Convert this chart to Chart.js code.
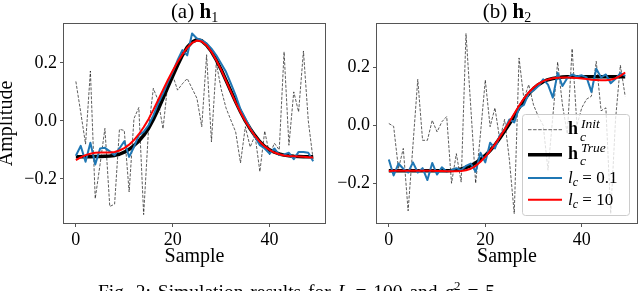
<!DOCTYPE html>
<html><head><meta charset="utf-8">
<script src="https://cdn.jsdelivr.net/npm/chart.js@4.4.1/dist/chart.umd.min.js"></script>
<style>
html,body{margin:0;padding:0;background:#fff;}
#wrap{position:relative;width:640px;height:291px;overflow:hidden;background:#fff;}
canvas{position:absolute;top:0;}
#cA{left:0;} #cB{left:330px;}
svg{position:absolute;left:0;top:0;}
</style></head>
<body>
<div id="wrap">
<canvas id="cA" width="330" height="291"></canvas>
<canvas id="cB" width="310" height="291"></canvas>
<svg width="640" height="291" font-family="Liberation Serif, serif">
  <text x="194.5" y="18" text-anchor="middle" font-size="21">(a) <tspan font-weight="bold">h</tspan><tspan font-size="14" dy="4">1</tspan></text>
  <text x="507" y="18" text-anchor="middle" font-size="21">(b) <tspan font-weight="bold">h</tspan><tspan font-size="14" dy="4">2</tspan></text>
  <rect x="522.5" y="114.5" width="107" height="101" rx="3" ry="3" fill="#ffffff" fill-opacity="0.8" stroke="#cccccc" stroke-width="1"/>
  <line x1="528" y1="129.7" x2="562" y2="129.7" stroke="rgba(0,0,0,0.7)" stroke-width="0.9" stroke-dasharray="3.5,1.6"/>
  <line x1="528" y1="154.7" x2="562" y2="154.7" stroke="#000" stroke-width="3.5"/>
  <line x1="528" y1="178" x2="562" y2="178" stroke="#1f77b4" stroke-width="2"/>
  <line x1="528" y1="199.7" x2="562" y2="199.7" stroke="#ff0000" stroke-width="2"/>
  <text x="568" y="134" font-size="18" font-weight="bold">h</text>
  <text x="581" y="127.5" font-size="13.5" font-style="italic">Init</text>
  <text x="580" y="140.5" font-size="13.5" font-style="italic">c</text>
  <text x="568" y="159" font-size="18" font-weight="bold">h</text>
  <text x="581" y="152" font-size="13.5" font-style="italic">True</text>
  <text x="580" y="165" font-size="13.5" font-style="italic">c</text>
  <text x="568" y="183" font-size="17"><tspan font-style="italic">l</tspan><tspan font-size="12" font-style="italic" dy="3">c</tspan><tspan dy="-3"> = 0.1</tspan></text>
  <text x="568" y="205" font-size="17"><tspan font-style="italic">l</tspan><tspan font-size="12" font-style="italic" dy="3">c</tspan><tspan dy="-3"> = 10</tspan></text>
  <text x="98" y="298" font-size="19.5" word-spacing="2">Fig. 2: Simulation results for <tspan font-style="italic">L</tspan> = 100 and <tspan font-style="italic">σ</tspan><tspan font-size="13" dy="-8">2</tspan><tspan dy="8"> = 5</tspan></text>
</svg>
</div>
<script>
const samples = [0,1,2,3,4,5,6,7,8,9,10,11,12,13,14,15,16,17,18,19,20,21,22,23,24,25,26,27,28,29,30,31,32,33,34,35,36,37,38,39,40,41,42,43,44,45,46,47,48,49];
const xTicks = [0, 20, 40];
const yTicks = [-0.2, 0.0, 0.2];

const h1Init = [0.136,0.03,-0.08,0.172,-0.268,-0.15,-0.026,-0.295,-0.287,-0.029,
 -0.033,-0.245,0.008,0.046,-0.323,-0.03,0.112,0.07,-0.027,0.13,
 0.157,0.106,0.128,0.146,0.112,0.078,-0.02,0.228,-0.072,0.2,
 0.11,0.045,0.003,-0.038,-0.145,-0.02,-0.09,-0.05,-0.175,-0.035,
 -0.117,-0.077,-0.10,0.238,-0.084,0.10,0.031,0.241,0.0,-0.134];
const h1True = [-0.124,-0.124,-0.124,-0.124,-0.123,-0.123,-0.122,-0.121,-0.119,-0.115,
 -0.108,-0.098,-0.085,-0.07,-0.05,-0.026,0.005,0.04,0.078,0.117,
 0.155,0.192,0.226,0.254,0.272,0.28,0.276,0.261,0.239,0.210,
 0.177,0.140,0.103,0.066,0.032,0.0,-0.027,-0.051,-0.072,-0.088,
 -0.10,-0.108,-0.114,-0.118,-0.12,-0.122,-0.123,-0.124,-0.124,-0.124];
const h1Lc01 = [-0.12,-0.086,-0.141,-0.075,-0.150,-0.095,-0.093,-0.105,-0.118,-0.095,
 -0.070,-0.124,-0.090,-0.049,-0.038,-0.015,0.019,0.060,0.094,0.134,
 0.169,0.209,0.244,0.226,0.301,0.284,0.278,0.267,0.249,0.226,
 0.198,0.169,0.129,0.088,0.040,0.008,-0.024,-0.055,-0.084,-0.095,
 -0.113,-0.095,-0.118,-0.116,-0.110,-0.132,-0.107,-0.107,-0.110,-0.139];
const h1Lc10 = [-0.135,-0.126,-0.118,-0.113,-0.110,-0.109,-0.109,-0.109,-0.107,-0.102,
 -0.094,-0.082,-0.066,-0.046,-0.022,0.006,0.038,0.072,0.107,0.141,
 0.173,0.203,0.229,0.252,0.269,0.277,0.274,0.260,0.238,0.209,
 0.176,0.139,0.101,0.064,0.030,-0.001,-0.028,-0.052,-0.072,-0.088,
 -0.10,-0.109,-0.115,-0.119,-0.121,-0.122,-0.123,-0.124,-0.125,-0.126];

const h2Init = [0.006,-0.004,-0.15,-0.08,-0.295,-0.07,0.158,-0.052,-0.052,0.017,
 -0.023,0.012,0.03,-0.2,-0.098,-0.196,0.316,0.06,-0.2,-0.03,
 0.156,-0.005,0.06,-0.05,0.02,-0.12,-0.305,0.232,0.09,0.14,
 0.07,0.03,0.0,-0.155,0.03,0.218,0.07,-0.03,0.264,0.0,
 0.06,0.09,0.10,0.22,0.05,0.06,-0.305,0.02,0.207,0.1];
const h2True = [-0.157,-0.157,-0.157,-0.157,-0.157,-0.157,-0.157,-0.157,-0.157,-0.157,
 -0.157,-0.157,-0.157,-0.156,-0.154,-0.151,-0.146,-0.139,-0.130,-0.118,
 -0.104,-0.087,-0.068,-0.045,-0.020,0.005,0.032,0.060,0.086,0.108,
 0.126,0.140,0.150,0.157,0.161,0.164,0.166,0.167,0.167,0.167,
 0.167,0.167,0.167,0.167,0.167,0.167,0.167,0.167,0.167,0.167];
const h2Lc01 = [-0.118,-0.173,-0.132,-0.150,-0.163,-0.128,-0.163,-0.148,-0.189,-0.13,
 -0.17,-0.145,-0.16,-0.155,-0.148,-0.155,-0.14,-0.132,-0.16,-0.095,
 -0.128,-0.06,-0.08,-0.035,-0.015,0.02,0.01,0.06,0.07,0.11,
 0.12,0.135,0.158,0.14,0.095,0.18,0.135,0.163,0.175,0.168,
 0.172,0.165,0.115,0.195,0.165,0.175,0.145,0.16,0.18,0.17];
const h2Lc10 = [-0.158,-0.157,-0.157,-0.157,-0.157,-0.157,-0.157,-0.157,-0.157,-0.157,
 -0.158,-0.158,-0.159,-0.159,-0.159,-0.158,-0.155,-0.150,-0.140,-0.126,
 -0.108,-0.088,-0.066,-0.041,-0.015,0.012,0.040,0.067,0.092,0.113,
 0.130,0.143,0.152,0.158,0.162,0.164,0.165,0.165,0.164,0.163,
 0.161,0.159,0.157,0.156,0.155,0.155,0.157,0.162,0.170,0.182];

const FAM = 'Liberation Serif';
function pts(arr){ return samples.map((s,i)=>({x:s, y:arr[i]})); }
const spines = {
  id:'spines',
  afterDraw(chart){
    const {ctx, chartArea:a} = chart;
    ctx.save();
    ctx.strokeStyle = '#555';
    ctx.lineWidth = 1;
    ctx.strokeRect(a.left-0.5, a.top-0.5, a.right-a.left+1, a.bottom-a.top+1);
    ctx.restore();
  }
};
function makeChart(id, init, tru, lc01, lc10, yMin, yMax, yWidth, rightPad, yTitle){
  return new Chart(document.getElementById(id), {
    type:'line',
    data:{datasets:[
      {label:'l_c = 10', data:pts(lc10), borderColor:'#ff0000', borderWidth:2, order:1},
      {label:'l_c = 0.1', data:pts(lc01), borderColor:'#1f77b4', borderWidth:2, order:2},
      {label:'h_c True', data:pts(tru), borderColor:'#000000', borderWidth:3.5, order:3},
      {label:'h_c Init', data:pts(init), borderColor:'rgba(0,0,0,0.8)', borderWidth:0.8, borderDash:[3,1.5], order:4}
    ]},
    options:{
      responsive:false, animation:false, devicePixelRatio:1,
      layout:{padding:{left:0, right:rightPad, top:24, bottom:0}},
      elements:{point:{radius:0}, line:{tension:0, fill:false, borderJoinStyle:'round'}},
      plugins:{legend:{display:false}, tooltip:{enabled:false}, title:{display:false}},
      scales:{
        x:{type:'linear', min:-2.45, max:51.45,
          afterBuildTicks:s=>{ s.ticks = xTicks.map(v=>({value:v})); },
          afterFit:s=>{ s.height = 68; },
          ticks:{autoSkip:false, maxRotation:0, padding:2, color:'#000', font:{family:FAM, size:18}, callback:v=>String(v)},
          grid:{display:true, drawOnChartArea:false, drawTicks:true, tickLength:4, color:'#555', lineWidth:1},
          border:{display:false},
          title:{display:true, text:'Sample', color:'#000', font:{family:FAM, size:20}, padding:{top:0, bottom:22}}
        },
        y:{type:'linear', min:yMin, max:yMax,
          afterBuildTicks:s=>{ s.ticks = yTicks.map(v=>({value:v})); },
          afterFit:s=>{ s.width = yWidth; },
          ticks:{autoSkip:false, padding:3, color:'#000', font:{family:FAM, size:18},
            callback:v=>(v < -1e-9 ? '\u2212' : '') + Math.abs(v).toFixed(1)},
          grid:{display:true, drawOnChartArea:false, drawTicks:true, tickLength:4, color:'#555', lineWidth:1},
          border:{display:false},
          title:{display:!!yTitle, text:yTitle || '', color:'#000', font:{family:FAM, size:20, lineHeight:0.7}, padding:{top:0, bottom:0}}
        }
      }
    },
    plugins:[spines]
  });
}
makeChart('cA', h1Init, h1True, h1Lc01, h1Lc10, -0.352, 0.334, 64, 5, 'Amplitude');
makeChart('cB', h2Init, h2True, h2Lc01, h2Lc10, -0.337, 0.349, 47, 3, '');
</script>
</body></html>
